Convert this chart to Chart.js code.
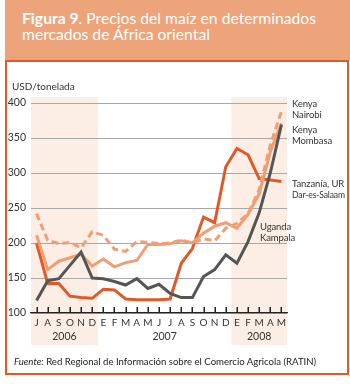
<!DOCTYPE html>
<html><head><meta charset="utf-8">
<script src="https://cdn.jsdelivr.net/npm/chart.js@4.4.1/dist/chart.umd.min.js"></script>
<style>
html,body{margin:0;padding:0;background:#fff;}
body{width:350px;height:384px;position:relative;overflow:hidden;font-family:Lato, "Noto Sans", sans-serif;}
#hdr{position:absolute;left:5px;top:0;width:345px;height:60px;background:#EEA47B;}
#ttl{position:absolute;left:17px;top:10px;color:#fff;font-size:15.7px;line-height:16px;}
#frame{position:absolute;left:5px;top:60px;width:344px;height:315px;border:2px solid #E0592A;box-sizing:border-box;}
canvas{position:absolute;left:0;top:0;}
.lbl{position:absolute;font-size:9.5px;line-height:10px;color:#333;white-space:nowrap;letter-spacing:-0.1px;}
.sm{font-size:8.6px;letter-spacing:-0.15px;}
#src{position:absolute;left:14px;top:356px;font-size:9.6px;color:#222;white-space:nowrap;}
#unit{position:absolute;left:12px;top:80px;font-size:10px;color:#333;}
</style></head>
<body>
<div id="hdr"><div id="ttl"><b>Figura 9</b>. Precios del maíz en determinados<br>mercados de África oriental</div></div>
<div id="frame"></div>
<canvas id="c" width="350" height="384"></canvas>
<div id="unit">USD/tonelada</div>
<div class="lbl" style="left:292px;top:99px;">Kenya</div>
<div class="lbl" style="left:292px;top:110px;">Nairobi</div>
<div class="lbl" style="left:292px;top:125px;">Kenya</div>
<div class="lbl" style="left:292px;top:136px;">Mombasa</div>
<div class="lbl" style="left:292px;top:179px;">Tanzanía, UR</div>
<div class="lbl sm" style="left:292px;top:190px;">Dar-es-Salaam</div>
<div class="lbl" style="left:260px;top:222px;">Uganda</div>
<div class="lbl" style="left:260px;top:233px;">Kampala</div>
<div id="src"><i>Fuente:</i> Red Regional de Información sobre el Comercio Agricola (RATIN)</div>
<script>
const months = ["J","A","S","O","N","D","E","F","M","A","M","J","J","A","S","O","N","D","E","F","M","A","M"];
const years = ["2006","2007","2008"];
const yearStart = [0, 6, 18];
const yearEnd = [5, 17, 22];
const shadedYears = [0, 2];
const yTicks = [100, 150, 200, 250, 300, 350, 400];

const kenyaNairobi = [242,204,199,201,193,216,211,191,188,202,201,199,200,204,200,206,203,221,228,242,276,340,388];
const kenyaMombasa = [211,162,174,179,184,167,177,166,172,175,198,198,199,203,200,214,224,229,221,241,270,330,371];
const tanzania = [200,142,142,124,122,121,134,133,120,119,119,119,120,171,192,237,229,309,335,326,292,290,288];
const uganda = [118,146,149,168,187,150,149,145,140,149,135,141,128,122,122,152,162,183,171,202,243,300,369];

const FONT = 'Lato, "Noto Sans", sans-serif';

const bands = {
  id: 'bands',
  beforeDraw(chart) {
    const {ctx, chartArea} = chart;
    const x = chart.scales.x;
    ctx.save();
    ctx.fillStyle = '#FCEEE4';
    shadedYears.forEach(i => {
      const l = x.getPixelForValue(yearStart[i] - 0.5);
      const r = x.getPixelForValue(yearEnd[i] + 0.5);
      ctx.fillRect(l, chartArea.top - 6, r - l, chartArea.bottom - chartArea.top + 38);
    });
    ctx.restore();
  }
};

const decor = {
  id: 'decor',
  afterDraw(chart) {
    const {ctx, chartArea} = chart;
    const x = chart.scales.x;
    ctx.save();
    ctx.strokeStyle = '#222';
    ctx.lineWidth = 1.5;
    months.forEach((m, i) => {
      const px = Math.round(x.getPixelForValue(i)) + 0.25;
      ctx.beginPath();
      ctx.moveTo(px, chartArea.bottom);
      ctx.lineTo(px, chartArea.bottom - 6);
      ctx.stroke();
    });
    ctx.fillStyle = '#333';
    ctx.font = '10.5px ' + FONT;
    ctx.textAlign = 'center';
    ctx.textBaseline = 'middle';
    years.forEach((yv, i) => {
      const cx = (x.getPixelForValue(yearStart[i]) + x.getPixelForValue(yearEnd[i])) / 2;
      ctx.fillText(yv, cx, chartArea.bottom + 24);
    });
    ctx.restore();
  }
};

new Chart(document.getElementById('c'), {
  type: 'line',
  data: {
    labels: months,
    datasets: [
      {label: 'Uganda, Kampala', data: uganda, borderColor: '#555555', borderWidth: 3},
      {label: 'Kenya, Mombasa', data: kenyaMombasa, borderColor: '#EF9E76', borderWidth: 3},
      {label: 'Kenya, Nairobi', data: kenyaNairobi, borderColor: '#EF9E76', borderWidth: 3, borderDash: [7,4]},
      {label: 'Tanzanía, UR, Dar-es-Salaam', data: tanzania, borderColor: '#E05A28', borderWidth: 3}
    ].map(d => Object.assign({pointRadius: 0, tension: 0, fill: false, borderJoinStyle: 'miter', borderCapStyle: 'butt'}, d))
  },
  plugins: [bands, decor],
  options: {
    responsive: false,
    animation: false,
    events: [],
    layout: {padding: {left: 0, right: 63, top: 103, bottom: 51}},
    plugins: {legend: {display: false}, tooltip: {enabled: false}},
    scales: {
      x: {
        offset: true,
        grid: {display: false, drawTicks: false},
        border: {display: true, color: '#222', width: 1.2},
        ticks: {autoSkip: false, maxRotation: 0, minRotation: 0, padding: 4, color: '#333', font: {family: FONT, size: 10}},
        afterFit(s) { s.height = 20; }
      },
      y: {
        min: 100, max: 400,
        afterBuildTicks(s) { s.ticks = yTicks.map(v => ({value: v})); },
        grid: {color: '#A8A8A8', lineWidth: 1, drawTicks: false},
        border: {display: false},
        ticks: {padding: 5, color: '#333', font: {family: FONT, size: 10.5}},
        afterFit(s) { s.width = 31; }
      }
    }
  }
});
</script>
</body></html>
